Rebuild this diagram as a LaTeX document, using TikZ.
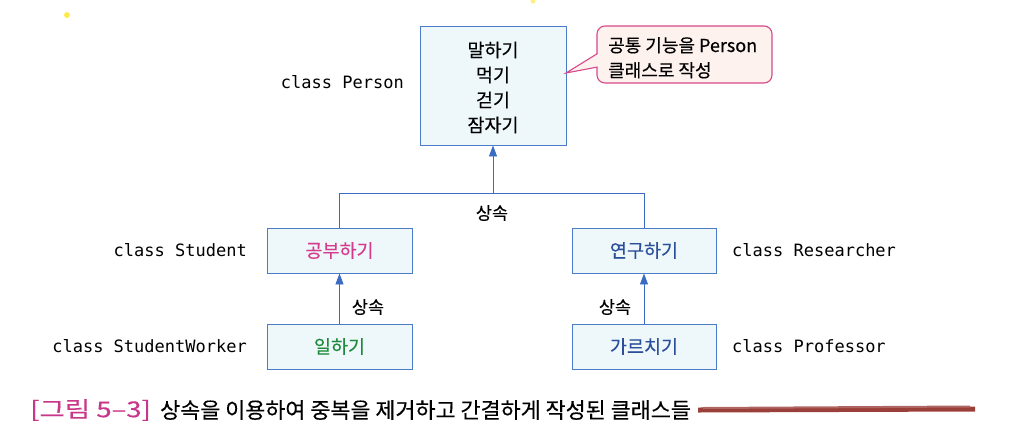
\documentclass[tikz,border=0pt]{standalone}
\usepackage{fontspec}
\newfontfamily\kr[FakeBold=0.3]{Noto Sans CJK KR}
\newfontfamily\mono{DejaVu Sans Mono}
\usetikzlibrary{arrows.meta}
\definecolor{boxline}{HTML}{4A7CC8}
\definecolor{boxfill}{HTML}{EEF8FB}
\definecolor{arrowc}{HTML}{3A6CC4}
\definecolor{calline}{HTML}{D9468A}
\definecolor{calfill}{HTML}{FDF2EE}
\definecolor{magtext}{HTML}{D63A8C}
\definecolor{greentext}{HTML}{1E8A3C}
\definecolor{bluetext}{HTML}{2B4F9A}
\definecolor{captmag}{HTML}{C8378A}
\definecolor{scribble}{HTML}{9B3F3A}
\tikzset{
  classbox/.style={draw=boxline, fill=boxfill, line width=0.9pt, inner sep=0pt,
    font=\kr\fontsize{18.5}{25}\selectfont},
  codelabel/.style={inner sep=0pt, font=\mono\fontsize{17}{20}\selectfont},
  inhlabel/.style={inner sep=0pt, font=\kr\fontsize{17.5}{20}\selectfont},
  inharrow/.style={draw=arrowc, line width=0.9pt, -{Triangle[length=11pt,width=8pt]}},
  inhline/.style={draw=arrowc, line width=0.9pt},
  callout/.style={draw=calline, fill=calfill, line width=1.1pt, rounded corners=8pt,
    minimum width=175pt, minimum height=57pt, inner sep=0pt},
  caltext/.style={anchor=base west, inner sep=0pt, font=\kr\fontsize{18}{25}\selectfont}
}
\begin{document}
\begin{tikzpicture}[x=1pt,y=-1pt]
\useasboundingbox (0,0) rectangle (1009,432);
% specks
\fill[yellow!85!orange!70] (67,15) circle (3);
\fill[yellow!85!orange!50] (533,1) circle (2.5);
% boxes
\node[classbox, minimum width=146pt, minimum height=119pt] (per) at (493,85.5) {};
\node[inner sep=0pt, align=center, font=\kr\fontsize{18.5}{25}\selectfont] (pertext) at (493,87.5)
  {말하기\\먹기\\걷기\\잠자기};
\node[classbox, minimum width=145pt, minimum height=45pt, text=magtext] (stu) at (339.5,250.5) {공부하기};
\node[classbox, minimum width=144pt, minimum height=45pt, text=bluetext] (res) at (644,250.5) {연구하기};
\node[classbox, minimum width=145pt, minimum height=45pt, text=greentext] (sw) at (339.5,346.5) {일하기};
\node[classbox, minimum width=144pt, minimum height=45pt, text=bluetext] (prof) at (644,346.5) {가르치기};
% callout
\node[callout] (cal) at (684.5,54.5) {};
\fill[calfill] (598.6,53) -- (566,73) -- (598.6,67) -- cycle;
\draw[calline, line width=1.1pt, line join=miter] (597.5,53.5) -- (566,73) -- (597.5,67);
\node[caltext] (calt1) at (608,52) {공통 기능을 Person};
\node[caltext] (calt2) at (608,77) {클래스로 작성};
% class labels
\node[codelabel, anchor=east] (lper) at (404,82) {class Person};
\node[codelabel, anchor=east] (lstu) at (247,250) {class Student};
\node[codelabel, anchor=east] (lsw) at (247,346) {class StudentWorker};
\node[codelabel, anchor=west] (lres) at (732,250) {class Researcher};
\node[codelabel, anchor=west] (lprof) at (732,346) {class Professor};
% connectors
\coordinate (j) at (493,193);
\draw[inharrow] (stu.north) |- (j) -- (per.south);
\draw[inhline] (res.north) |- (j);
\draw[inharrow] (sw.north) -- (stu.south);
\draw[inharrow] (prof.north) -- (res.south);
\node[inhlabel] (l1) at (492,213) {상속};
\node[inhlabel] (l2) at (368,307) {상속};
\node[inhlabel] (l3) at (615,307) {상속};
% caption
\node[anchor=west, inner sep=0pt, text=captmag, xscale=1.25, font=\kr\fontsize{22}{24}\selectfont] (cap1) at (30,410) {[그림 5–3]};
\node[anchor=west, inner sep=0pt, font=\kr\fontsize{21.8}{24}\selectfont] (cap2) at (160,410)
  {상속을 이용하여 중복을 제거하고 간결하게 작성된 클래스들};
\draw[scribble, line width=5pt] (698,410) -- (975,409);
\draw[scribble!80, line width=2pt] (703,408) -- (970,406.5);
\end{tikzpicture}
\end{document}
